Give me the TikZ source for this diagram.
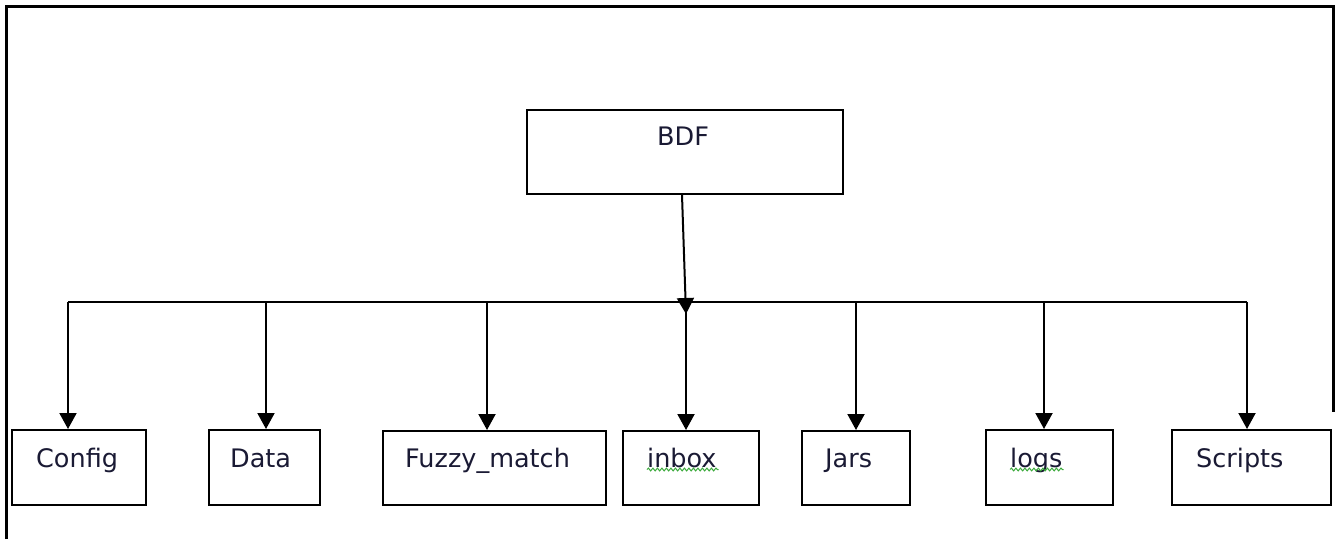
\documentclass[tikz,border=0pt]{standalone}
\usepackage{fontspec}
\setmainfont{DejaVu Sans}
\usetikzlibrary{arrows.meta,decorations.pathmorphing}
\definecolor{txt}{RGB}{26,26,52}
\definecolor{spell}{RGB}{60,170,60}
\begin{document}
\begin{tikzpicture}[x=1pt,y=-1pt,
  box/.style={draw=black,line width=2pt,inner sep=0pt,fill=white},
  lbl/.style={anchor=base west,inner sep=0pt,text=txt,font=\fontsize{25.5}{30}\selectfont},
  conn/.style={line width=2pt,-{Triangle[width=17pt,length=16pt]}},
  squig/.style={draw=spell,line width=1pt,decorate,decoration={snake,amplitude=1.4pt,segment length=4.5pt}}]
\useasboundingbox (0,0) rectangle (1336,539);
% frame
\draw[line width=3.5pt] (6.5,539) -- (6.5,6.5) -- (1333.5,6.5) -- (1333.5,412);
% boxes
\node[box,minimum width=316pt,minimum height=84pt] (BDF) at (685,152) {};
\node[box,minimum width=134pt,minimum height=75pt] (Config) at (79,467.5) {};
\node[box,minimum width=111pt,minimum height=75pt] (Data) at (264.5,467.5) {};
\node[box,minimum width=223pt,minimum height=74pt] (Fuzzy) at (494.5,468) {};
\node[box,minimum width=136pt,minimum height=74pt] (inbox) at (691,468) {};
\node[box,minimum width=108pt,minimum height=74pt] (Jars) at (856,468) {};
\node[box,minimum width=127pt,minimum height=75pt] (logs) at (1049.5,467.5) {};
\node[box,minimum width=159pt,minimum height=75pt] (Scripts) at (1251.5,467.5) {};
% labels
\node[lbl] (tBDF) at (657,145) {BDF};
\node[lbl] (tConfig) at (36,467) {Config};
\node[lbl] (tData) at (230,467) {Data};
\node[lbl] (tFuzzy) at (405,467) {Fuzzy\_match};
\node[lbl] (tinbox) at (647,467) {inbox};
\node[lbl] (tJars) at (825,467) {Jars};
\node[lbl] (tlogs) at (1010,467) {logs};
\node[lbl] (tScripts) at (1196,467) {Scripts};
% spell-check squiggles
\draw[squig] ([yshift=-2.5pt]tinbox.base west) -- ([yshift=-2.5pt,xshift=2pt]tinbox.base east);
\draw[squig] ([yshift=-2.5pt]tlogs.base west) -- ([yshift=-2.5pt,xshift=1pt]tlogs.base east);
% bus
\coordinate (jConfig) at (68,302);
\coordinate (jData) at (266,302);
\coordinate (jFuzzy) at (487,302);
\coordinate (jinbox) at (686,302);
\coordinate (jJars) at (856,302);
\coordinate (jlogs) at (1044,302);
\coordinate (jScripts) at (1247,302);
\coordinate (tip) at (686,314);
\draw[line width=2pt] (jConfig) -- (jScripts);
\draw[conn] ([xshift=-3pt]BDF.south) -- (tip);
\foreach \n in {Config,Data,Fuzzy,inbox,Jars,logs,Scripts}
  \draw[conn] (j\n) -- (j\n |- \n.north);
\end{tikzpicture}
\end{document}
